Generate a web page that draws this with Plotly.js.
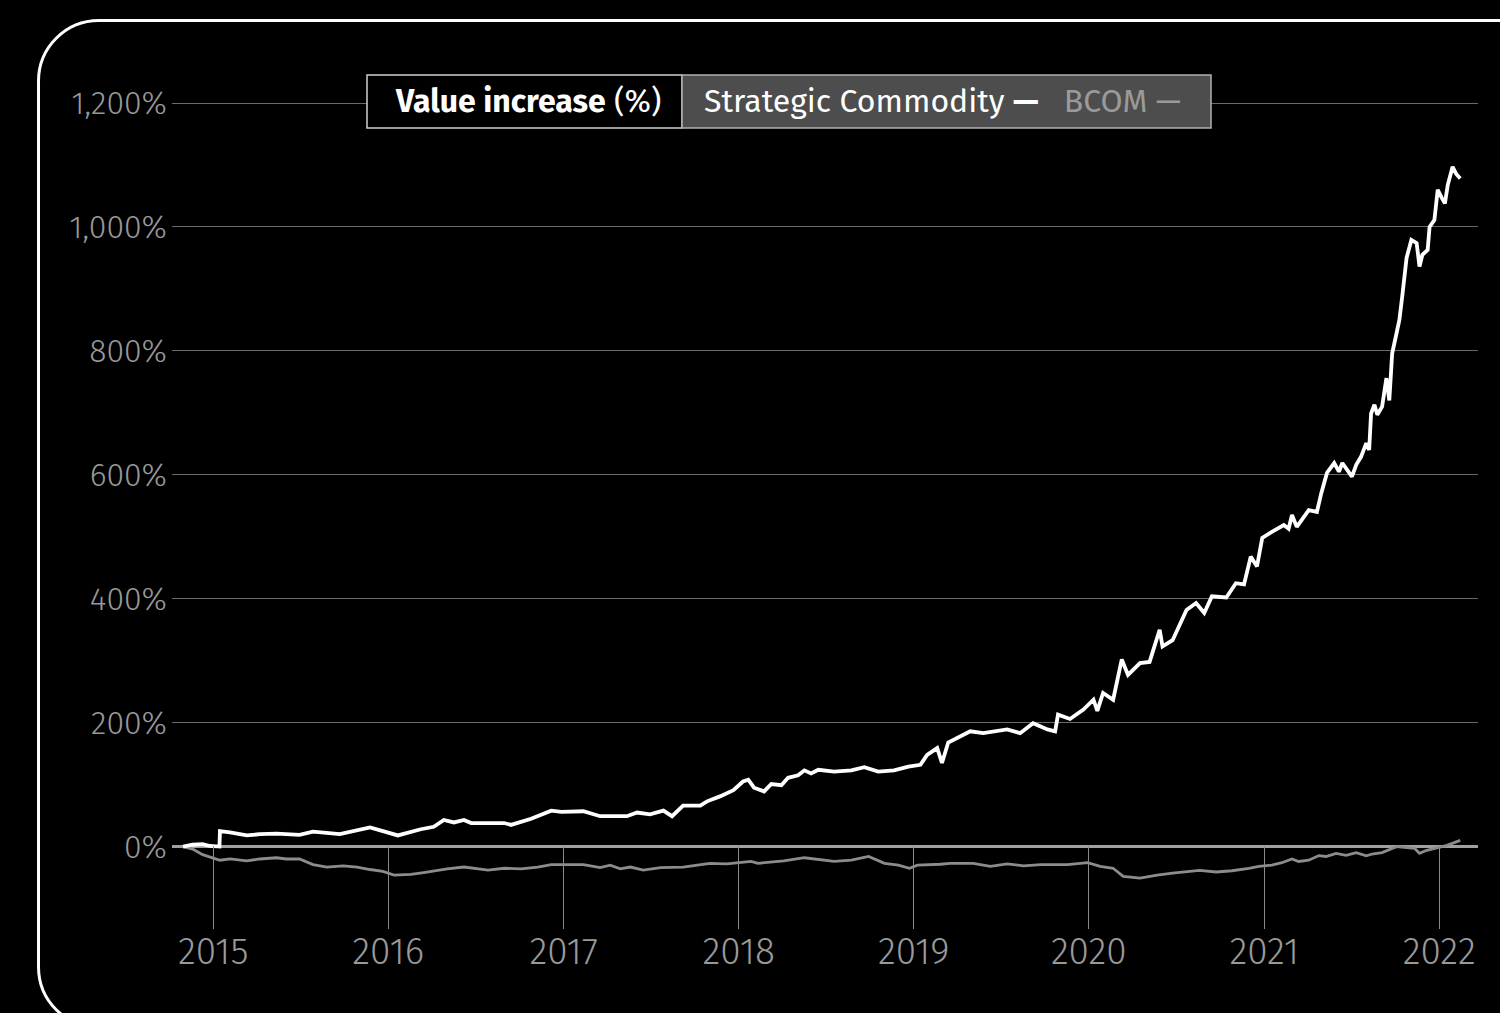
<!DOCTYPE html>
<html>
<head>
<meta charset="utf-8">
<script src="https://cdn.plot.ly/plotly-3.0.1.min.js"></script>
<style>
  html, body { margin:0; padding:0; background:#000; width:1500px; height:1013px; overflow:hidden; }
  #frame { position:absolute; left:37px; top:19px; width:1600px; height:1010px; border:3px solid #fff; border-radius:62px; box-sizing:border-box; }
  #chart { position:absolute; left:0; top:0; width:1500px; height:1013px; }
</style>
</head>
<body>
<div id="frame"></div>
<div id="chart"></div>
<script>
// ---- Data ----
const stratDates = [
"2014-10-30","2014-11-19","2014-12-10","2014-12-25","2015-01-14","2015-01-15","2015-02-05","2015-03-12","2015-04-08","2015-05-13",
"2015-06-30","2015-07-28","2015-09-22","2015-11-24","2015-12-21","2016-01-21","2016-03-09","2016-04-05","2016-04-26","2016-05-17",
"2016-06-07","2016-06-22","2016-08-30","2016-09-13","2016-10-25","2016-12-06","2016-12-27","2017-02-11","2017-03-18","2017-05-13",
"2017-06-03","2017-06-30","2017-07-28","2017-08-15","2017-09-07","2017-10-13","2017-10-27","2017-11-23","2017-12-21","2018-01-10",
"2018-01-21","2018-02-02","2018-02-23","2018-03-10","2018-03-31","2018-04-14","2018-05-05","2018-05-18","2018-06-01","2018-06-16",
"2018-07-19","2018-08-24","2018-09-20","2018-10-19","2018-11-21","2018-12-21","2019-01-15","2019-01-29","2019-02-19","2019-03-01",
"2019-03-14","2019-04-08","2019-04-29","2019-05-26","2019-07-15","2019-08-11","2019-09-07","2019-10-07","2019-10-23","2019-10-29",
"2019-11-23","2019-12-21","2020-01-11","2020-01-19","2020-01-31","2020-02-21","2020-03-10","2020-03-23","2020-04-17","2020-05-07",
"2020-05-28","2020-06-03","2020-06-24","2020-07-23","2020-08-12","2020-08-29","2020-09-14","2020-10-14","2020-11-03","2020-11-20",
"2020-12-04","2020-12-17","2020-12-28","2021-01-17","2021-02-11","2021-02-21","2021-02-28","2021-03-10","2021-04-04","2021-04-21",
"2021-04-30","2021-05-12","2021-05-27","2021-06-06","2021-06-13","2021-07-03","2021-07-12","2021-07-22","2021-08-02","2021-08-08",
"2021-08-12","2021-08-19","2021-08-25","2021-09-04","2021-09-13","2021-09-19","2021-09-25","2021-10-04","2021-10-10","2021-10-16",
"2021-10-25","2021-11-04","2021-11-15","2021-11-21","2021-11-27","2021-12-08","2021-12-12","2021-12-22","2021-12-29","2022-01-07",
"2022-01-13","2022-01-19","2022-01-29","2022-02-06","2022-02-14"];
const stratValues = [
0,3,4,1,0,25,23,18,20,21,
19,24,20,31,25,18,28,32,43,39,
43,38,38,35,45,58,56,57,49,49,
55,52,58,49,66,66,73,81,91,105,
108,95,89,101,99,111,115,123,118,124,
121,123,128,121,123,129,132,148,159,135,
168,178,186,183,189,183,199,189,186,213,
206,221,237,219,248,237,302,277,296,298,
350,323,333,382,393,377,404,402,425,423,
468,452,498,508,519,513,535,516,543,540,
570,603,619,605,619,597,616,629,651,640,
699,713,697,710,756,720,796,828,850,888,
950,979,974,936,955,963,1000,1011,1060,1046,
1038,1068,1097,1085,1078];

const bcomDates = [
"2014-10-30","2014-11-19","2014-12-10","2015-01-15","2015-02-05","2015-03-12","2015-04-08","2015-05-13","2015-06-03","2015-06-30",
"2015-07-28","2015-08-26","2015-09-29","2015-10-28","2015-11-24","2015-12-21","2016-01-13","2016-02-17","2016-03-15","2016-05-03",
"2016-06-07","2016-07-27","2016-08-30","2016-10-04","2016-11-08","2016-12-06","2017-01-15","2017-02-11","2017-03-18","2017-04-08",
"2017-04-29","2017-05-20","2017-06-16","2017-07-22","2017-09-07","2017-11-02","2017-12-07","2018-01-27","2018-02-10","2018-04-05",
"2018-05-18","2018-06-16","2018-07-19","2018-08-24","2018-09-29","2018-11-01","2018-11-30","2018-12-23","2019-01-09","2019-02-26",
"2019-03-18","2019-05-05","2019-06-10","2019-07-15","2019-08-18","2019-09-23","2019-11-18","2019-12-30","2020-01-25","2020-02-21",
"2020-03-13","2020-04-17","2020-05-23","2020-06-24","2020-08-19","2020-09-23","2020-10-26","2020-11-30","2020-12-21","2021-01-17",
"2021-02-07","2021-02-28","2021-03-14","2021-04-04","2021-04-25","2021-05-10","2021-05-31","2021-06-21","2021-07-12","2021-08-02",
"2021-08-14","2021-09-04","2021-10-04","2021-10-25","2021-11-11","2021-11-21","2021-12-06","2021-12-27","2022-01-17","2022-02-14"];
const bcomValues = [
0,-4,-13,-22,-20,-23,-20,-18,-20,-20,
-29,-33,-31,-33,-37,-40,-46,-45,-42,-36,
-33,-38,-35,-36,-33,-29,-29,-29,-34,-30,
-36,-33,-38,-34,-33,-27,-28,-24,-27,-23,
-18,-21,-24,-22,-16,-27,-30,-35,-30,-28.5,
-27,-27,-32,-28,-31,-29,-29,-26,-32,-35,
-48,-51,-46,-43,-38.5,-41,-39,-35,-32,-30,
-26,-20,-24,-22,-14.5,-16,-11,-14,-9.7,-15,
-12,-9.7,0,-1.6,-3,-11,-6,-2,2,10];

const yTickVals = [0,200,400,600,800,1000,1200];
const yTickText = ["0%","200%","400%","600%","800%","1,000%","1,200%"];
const xTickVals = ["2015-01-01","2016-01-01","2017-01-01","2018-01-01","2019-01-01","2020-01-01","2021-01-01","2022-01-01"];
const xTickText = ["2015","2016","2017","2018","2019","2020","2021","2022"];

// ---- Layout constants (pixels) ----
const W = 1500, H = 1013;
const mL = 172, mR = 22, mT = 60, mB = 83.5;
const plotW = W - mL - mR, plotH = H - mT - mB;
const px2paperX = p => (p - mL) / plotW;
const px2paperY = p => (H - mB - p) / plotH;

const FONT = "Fira Sans, Open Sans, Noto Sans, sans-serif";

const traces = [
  { x: bcomDates, y: bcomValues, type: "scatter", mode: "lines", name: "BCOM",
    line: { color: "#8c8c8c", width: 2.8 }, hoverinfo: "skip" },
  { x: stratDates, y: stratValues, type: "scatter", mode: "lines", name: "Strategic Commodity",
    line: { color: "#ffffff", width: 3.8 }, hoverinfo: "skip" }
];

const legTop = 75, legBot = 128, legL = 367, legMid = 682, legR = 1211;

const layout = {
  width: W, height: H,
  margin: { l: mL, r: mR, t: mT, b: mB, pad: 0 },
  paper_bgcolor: "rgba(0,0,0,0)",
  plot_bgcolor: "rgba(0,0,0,0)",
  showlegend: false,
  font: { family: FONT, color: "#999" },
  xaxis: {
    type: "date",
    range: ["2014-10-07", "2022-03-23"],
    tickvals: xTickVals, ticktext: xTickText,
    showgrid: false, zeroline: false, showline: false,
    ticks: "inside", ticklen: 83, tickwidth: 1, tickcolor: "#8a8a8a",
    ticklabelstandoff: -3,
    tickfont: { family: FONT, size: 37, color: "#999", weight: 300 }
  },
  yaxis: {
    range: [-133, 1269.4],
    tickvals: yTickVals, ticktext: yTickText,
    showgrid: true, gridcolor: "#6a6a6a", gridwidth: 1,
    zeroline: true, zerolinecolor: "#a0a0a0", zerolinewidth: 2.5,
    showline: false, ticks: "",
    ticklabelstandoff: 4,
    tickfont: { family: FONT, size: 32, color: "#999", weight: 300 }
  },
  shapes: [
    { type: "rect", xref: "paper", yref: "paper", layer: "above",
      x0: px2paperX(legL), x1: px2paperX(legMid), y0: px2paperY(legBot), y1: px2paperY(legTop),
      fillcolor: "#000", line: { color: "#d0d0d0", width: 1.5 } },
    { type: "rect", xref: "paper", yref: "paper", layer: "above",
      x0: px2paperX(legMid), x1: px2paperX(legR), y0: px2paperY(legBot), y1: px2paperY(legTop),
      fillcolor: "#4d4d4d", line: { color: "#b0b0b0", width: 1.5 } }
  ],
  annotations: [
    { xref: "paper", yref: "paper", x: px2paperX(393), y: px2paperY((legTop + legBot) / 2),
      xanchor: "left", yanchor: "middle", showarrow: false,
      text: "<b>Value increase</b> (%)", font: { family: FONT, size: 32, color: "#fff" } },
    { xref: "paper", yref: "paper", x: px2paperX(702), y: px2paperY((legTop + legBot) / 2),
      xanchor: "left", yanchor: "middle", showarrow: false,
      text: "Strategic Commodity <b>—</b>   <span style='color:#9a9a9a'>BCOM —</span>",
      font: { family: FONT, size: 32, color: "#fff" } }
  ]
};

Plotly.newPlot("chart", traces, layout, { staticPlot: true, displayModeBar: false });
</script>
</body>
</html>
